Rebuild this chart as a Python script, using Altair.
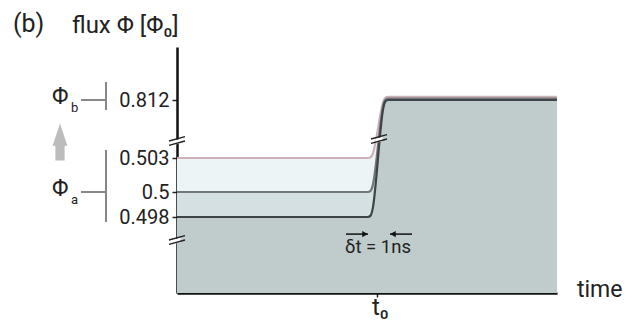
import altair as alt
import pandas as pd

# ---------------- data ----------------
# time in ns, t0 = 0 ; flux in units of Phi_0 (schematic step of duration ~1 ns)
times = [-10, -0.85, -0.45, -0.2, 0.05, 0.3, 0.55, 0.95, 9]
flux_low = [0.498, 0.498, 0.498, 0.498, 0.503, 0.812, 0.812, 0.812, 0.812]
flux_mid = [0.5, 0.5, 0.5, 0.5, 0.567, 0.8128, 0.8128, 0.8128, 0.8128]
flux_high = [0.503, 0.503, 0.503, 0.503, 0.658, 0.8136, 0.8136, 0.8136, 0.8136]
flux_base = 0.49

y_ticks = [0.498, 0.5, 0.503, 0.812]
x_ticks = [0]
# broken (piecewise) flux axis
y_domain = [0.49, 0.498, 0.5, 0.503, 0.812, 0.84]
x_domain = [-10, 9]

# annotation anchors (data units)
axis_breaks_y = [0.5936, 0.49558]
curve_break = (0.1, 0.6042)
phi_b_level = 0.812
phi_a_level = 0.5
phi_b_bar = (0.8215, 0.7587)
phi_a_bar = (0.5456, 0.49747)
arrow_level = 0.4962
arrow_right = (-1.55, -0.45)
arrow_left = (1.75, 0.65)
dt_label = "δt = 1ns"
dt_pos = (0.05, 0.49421)
gray_arrow_y = 0.5882

W, H = 380, 246
FONT = "Roboto"
TXT = "#222222"

yscale = alt.Scale(domain=y_domain, range=[246, 170, 145, 111, 53, 0], nice=False, zero=False)
xscale = alt.Scale(domain=x_domain, nice=False, zero=False)

yaxis = alt.Axis(values=y_ticks, labelExpr="format(datum.value, '.3~f')", title=None, grid=False,
                 labelFont=FONT, labelFontSize=20, labelColor=TXT, labelPadding=3,
                 tickColor=TXT, tickSize=5, tickWidth=1.5,
                 domainColor="#111111", domainWidth=2.5)
xaxis = alt.Axis(values=x_ticks, labels=False, title=None, grid=False,
                 tickColor=TXT, tickSize=4, tickWidth=1.5,
                 domainColor="#111111", domainWidth=2.5)

df = pd.DataFrame({"t": times, "low": flux_low, "mid": flux_mid,
                   "high": flux_high, "base": flux_base})


def X(field="t"):
    return alt.X(f"{field}:Q", scale=xscale, axis=xaxis)


def Y(field):
    return alt.Y(f"{field}:Q", scale=yscale, axis=yaxis)


layers = []
for field, color in [("high", "#edf4f6"), ("mid", "#d4e0e1"), ("low", "#bfcccb")]:
    layers.append(alt.Chart(df).mark_area(interpolate="basis", color=color, opacity=1)
                  .encode(x=X(), y=Y(field), y2="base:Q"))
for field, color in [("high", "#cdb3b8"), ("mid", "#73777b"), ("low", "#3e4347")]:
    layers.append(alt.Chart(df).mark_line(interpolate="basis", color=color, strokeWidth=2.2)
                  .encode(x=X(), y=Y(field)))

# axis / curve break marks
brk = pd.DataFrame({"t": [x_domain[0], x_domain[0], curve_break[0]],
                    "f": [axis_breaks_y[0], axis_breaks_y[1], curve_break[1]]})
gap_shape = "M-0.45,-0.03 L0.45,-0.27 L0.45,0.27 L-0.45,0.51 Z"
line_shape = "M-1,0 L1,-0.54 M-1,0.54 L1,0"
layers.append(alt.Chart(brk).mark_point(shape=gap_shape, filled=True, color="white",
                                        opacity=1, size=256, strokeWidth=0)
              .encode(x=X(), y=Y("f")))
layers.append(alt.Chart(brk).mark_point(shape=line_shape, filled=False, color="#222222",
                                        opacity=1, size=256, strokeWidth=1.4)
              .encode(x=X(), y=Y("f")))

# delta-t arrows
arr = pd.DataFrame({"x1": [arrow_right[0], arrow_left[0]], "x2": [arrow_right[1], arrow_left[1]],
                    "f": [arrow_level, arrow_level]})
layers.append(alt.Chart(arr).mark_rule(color="#111111", strokeWidth=1.5)
              .encode(x=X("x1"), x2="x2:Q", y=Y("f")))
heads = pd.DataFrame({"t": [arrow_right[1] - 0.15, arrow_left[1] + 0.15],
                      "f": [arrow_level, arrow_level]})
for i, shp in enumerate(["triangle-right", "triangle-left"]):
    layers.append(alt.Chart(heads.iloc[[i]]).mark_point(shape=shp, filled=True, color="#111111",
                                                      opacity=1, size=40)
                  .encode(x=X(), y=Y("f")))
lab = pd.DataFrame({"t": [dt_pos[0]], "f": [dt_pos[1]], "txt": [dt_label]})
layers.append(alt.Chart(lab).mark_text(font=FONT, fontSize=18.5, color=TXT, align="center",
                                       baseline="alphabetic")
              .encode(x=X(), y=Y("f"), text="txt:N"))

# Phi_b / Phi_a labels with brackets
lev = pd.DataFrame({"f": [phi_b_level, phi_a_level]})
layers.append(alt.Chart(lev).mark_rule(color="#555555", strokeWidth=1.4)
              .encode(x=alt.value(-96), x2=alt.value(-72), y=Y("f")))
bars = pd.DataFrame({"f1": [phi_b_bar[0], phi_a_bar[0]], "f2": [phi_b_bar[1], phi_a_bar[1]]})
layers.append(alt.Chart(bars).mark_rule(color="#555555", strokeWidth=1.4)
              .encode(x=alt.value(-71), y=Y("f1"), y2="f2:Q"))
phi = pd.DataFrame({"f": [phi_b_level, phi_a_level], "txt": ["Φ", "Φ"],
                    "sub": ["b", "a"]})
layers.append(alt.Chart(phi).mark_text(font=FONT, fontSize=23, color=TXT, align="left",
                                       baseline="middle", dy=-3)
              .encode(x=alt.value(-125), y=Y("f"), text="txt:N"))
layers.append(alt.Chart(phi).mark_text(font=FONT, fontSize=13, color=TXT, align="left",
                                       baseline="middle", dy=8)
              .encode(x=alt.value(-106), y=Y("f"), text="sub:N"))

# gray arrow
ga = pd.DataFrame({"f": [gray_arrow_y]})
arrow_shape = "M0,-1 L0.4,0.2 L0.25,0.2 L0.25,1 L-0.25,1 L-0.25,0.2 L-0.4,0.2 Z"
layers.append(alt.Chart(ga).mark_point(shape=arrow_shape, filled=True, color="#bcbcbc",
                                       opacity=1, size=1369, strokeWidth=0)
              .encode(x=alt.value(-117), y=Y("f")))

# titles / labels
ttl = pd.DataFrame({"txt": ["(b)"]})
layers.append(alt.Chart(ttl).mark_text(font=FONT, fontSize=25, color=TXT, align="left",
                                       baseline="alphabetic")
              .encode(x=alt.value(-164), y=alt.value(-15), text="txt:N"))
yt = pd.DataFrame({"txt": ["flux Φ [Φ₀]"]})
layers.append(alt.Chart(yt).mark_text(font=FONT, fontSize=24, color=TXT, align="left",
                                      baseline="alphabetic")
              .encode(x=alt.value(-105), y=alt.value(-14), text="txt:N"))
xt = pd.DataFrame({"txt": ["time"]})
layers.append(alt.Chart(xt).mark_text(font=FONT, fontSize=23, color=TXT, align="left",
                                      baseline="alphabetic")
              .encode(x=alt.value(400), y=alt.value(250), text="txt:N"))
t0 = pd.DataFrame({"t": [0], "txt": ["t₀"]})
layers.append(alt.Chart(t0).mark_text(font=FONT, fontSize=24, color=TXT, align="left",
                                      baseline="alphabetic", dx=-5)
              .encode(x=X(), y=alt.value(268), text="txt:N"))

chart = alt.layer(*layers).properties(
    width=W, height=H,
    autosize=alt.AutoSizeParams(type="none"),
    padding={"left": 169, "top": 39, "right": 66, "bottom": 30},
).configure_view(stroke=None)

chart.save("out.html", embed_options={"renderer": "svg", "actions": False})
